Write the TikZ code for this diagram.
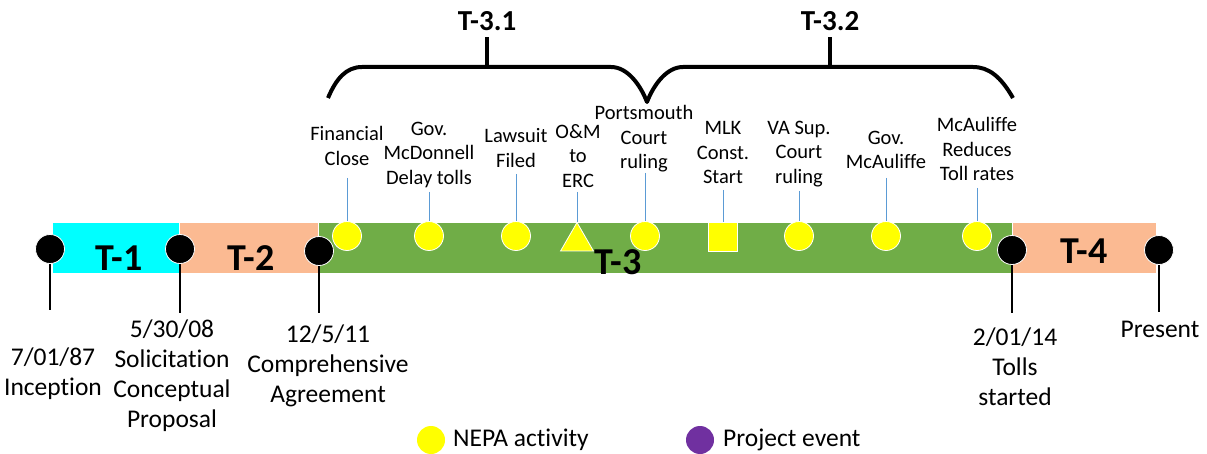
\documentclass[tikz,border=0pt]{standalone}
\usepackage{fontspec}
\setmainfont{Carlito}[Ligatures={NoCommon}]
\usetikzlibrary{shapes.geometric}
\definecolor{tcyan}{RGB}{0,255,255}
\definecolor{tsalmon}{RGB}{251,186,146}
\definecolor{tgreen}{RGB}{112,173,71}
\definecolor{tyellow}{RGB}{255,255,0}
\definecolor{tblue}{RGB}{91,155,213}
\definecolor{tpurple}{RGB}{112,48,160}
\begin{document}
\begin{tikzpicture}[x=1pt,y=-1pt,
  phase/.style={draw=white, line width=0.8pt},
  milestone/.style={circle, fill=black, draw=white, line width=0.8pt, minimum size=29pt, inner sep=0pt},
  nepa/.style={fill=tyellow, draw=white, line width=0.8pt, inner sep=0pt},
  nepacircle/.style={nepa, circle, minimum size=29pt},
  drop/.style={black, line width=1.2pt},
  conn/.style={tblue, line width=1pt},
  toplabel/.style={align=center, font=\fontsize{20.5}{24.5}\selectfont, inner sep=0pt},
  datelabel/.style={align=center, font=\fontsize{25.5}{30}\selectfont, inner sep=0pt},
  phaselabel/.style={font=\fontsize{38}{40}\selectfont\bfseries, inner sep=0pt},
  bracelabel/.style={font=\fontsize{29}{31}\selectfont\bfseries, inner sep=0pt},
  brace/.style={line width=4pt, line join=round},
  legendtext/.style={font=\fontsize{25.5}{30}\selectfont, inner sep=0pt, anchor=west},
]
\useasboundingbox (0,0) rectangle (1207,454);

% phase bars
\path[phase, fill=tcyan]   (52,222)   rectangle (179,273);
\path[phase, fill=tsalmon] (179,222)  rectangle (318,273);
\path[phase, fill=tgreen]  (318,222)  rectangle (1012,273);
\path[phase, fill=tsalmon] (1012,222) rectangle (1156,273);

\node[phaselabel] (T1) at (119,258) {T-1};
\node[phaselabel] (T2) at (251,258) {T-2};
\node[phaselabel] (T4) at (1084,251) {T-4};

% braces over T-3
\draw[brace] (328,98) .. controls (336,79) and (346,67) .. (362,67) -- (611,67)
  .. controls (627,67) and (640,84) .. (647,102)
  .. controls (654,84) and (667,67) .. (683,67) -- (973,67)
  .. controls (989,67) and (1001,77) .. (1013,98);
\node[bracelabel] (T31) at (487,21) {T-3.1};
\node[bracelabel] (T32) at (830,21) {T-3.2};
\coordinate (b31) at (487,67);
\coordinate (b32) at (830,67);
\draw[brace] (b31) -- (T31.south |- 0,37);
\draw[brace] (b32) -- (T32.south |- 0,37);

% project milestones
\coordinate (f0) at (50,310);
\coordinate (f1) at (180,313);
\coordinate (f2) at (319,313);
\coordinate (f3) at (1012,313);
\coordinate (f4) at (1159,312);
\draw[drop] (50,249) -- (f0);
\draw[drop] (180,249) -- (f1);
\draw[drop] (319,251) -- (f2);
\draw[drop] (1012,250) -- (f3);
\draw[drop] (1159,250) -- (f4);
\node[milestone] (p0) at (50,249) {};
\node[milestone] (p1) at (180,249) {};
\node[milestone] (p2) at (319,251) {};
\node[milestone] (p3) at (1012,250) {};
\node[milestone] (p4) at (1159,250) {};

\node[datelabel] (d0) at (53,374)   {7/01/87\\Inception};
\node[datelabel] (d1) at (172,376)  {5/30/08\\Solicitation\\Conceptual\\Proposal};
\node[datelabel] (d2) at (328,366)  {12/5/11\\Comprehensive\\Agreement};
\node[datelabel] (d3) at (1015,367) {2/01/14\\Tolls\\started};
\node[datelabel] (d4) at (1160,329) {Present};

% NEPA activity markers
\node[nepacircle] (m1) at (347,236) {};
\node[nepacircle] (m2) at (429,236) {};
\node[nepacircle] (m3) at (516,236) {};
\node[nepa, regular polygon, regular polygon sides=3, minimum size=38pt] (m4) at (577,241.5) {};
\node[nepacircle] (m5) at (645,236) {};
\node[nepa, rectangle, minimum size=29pt] (m6) at (723,236.5) {};
\node[nepacircle] (m7) at (799,236) {};
\node[nepacircle] (m8) at (886,236) {};
\node[nepacircle] (m9) at (977,236) {};

\node[phaselabel] (T3) at (618,262) {T-3};

\node[toplabel] (l1) at (347,146) {Financial\\Close};
\node[toplabel] (l2) at (429,155) {Gov.\\McDonnell\\Delay tolls};
\node[toplabel] (l3) at (516,148) {Lawsuit\\Filed};
\node[toplabel] (l4) at (578,156) {O\&M\\to\\ERC};
\node[toplabel] (l5) at (644,139) {Portsmouth\\Court\\ruling};
\node[toplabel] (l6) at (723,153) {MLK\\Const.\\Start};
\node[toplabel] (l7) at (799,154) {VA Sup.\\Court\\ruling};
\node[toplabel] (l8) at (886,150) {Gov.\\McAuliffe};
\node[toplabel] (l9) at (977,149) {McAuliffe\\Reduces\\Toll rates};

\coordinate (c1) at (347,178);
\coordinate (c2) at (429,192);
\coordinate (c3) at (516,174);
\coordinate (c4) at (577,192);
\coordinate (c5) at (645,173);
\coordinate (c6) at (723,190);
\coordinate (c7) at (799,191);
\coordinate (c8) at (886,178);
\coordinate (c9) at (977,188);
\foreach \i in {1,...,9} \draw[conn] (c\i) -- (m\i.north);

% legend
\node[circle, fill=tyellow, minimum size=28pt, inner sep=0pt] (k1) at (431,440) {};
\node[legendtext] (k1t) at (453,440) {NEPA activity};
\node[circle, fill=tpurple, minimum size=28pt, inner sep=0pt] (k2) at (700,440) {};
\node[legendtext] (k2t) at (723,440) {Project event};
\end{tikzpicture}
\end{document}
